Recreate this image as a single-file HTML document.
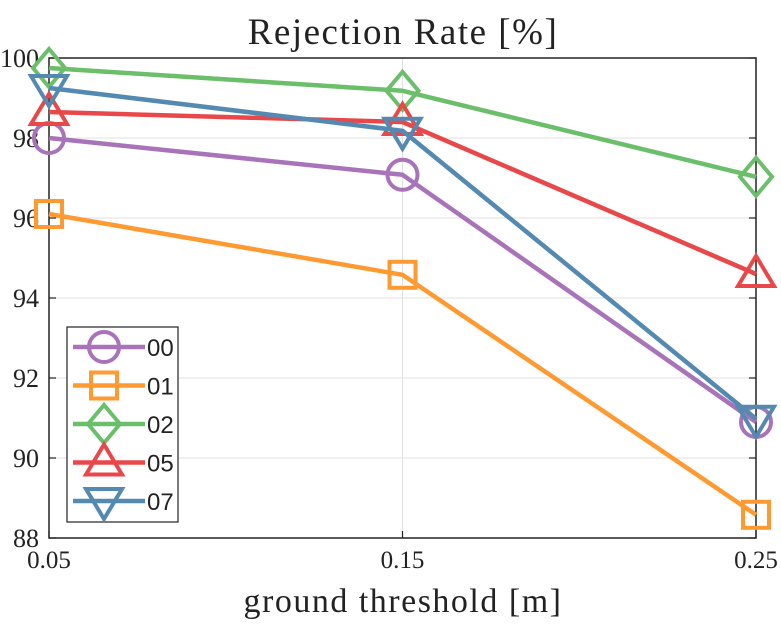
<!DOCTYPE html>
<html><head><meta charset="utf-8"><style>
body{margin:0;background:#fff;width:781px;height:625px;overflow:hidden}
svg text{font-family:"Liberation Serif",serif;fill:#222}
</style></head><body>
<svg id="chart" width="781" height="625" xmlns="http://www.w3.org/2000/svg">
<text x="403" y="44" font-size="37" letter-spacing="1.5" text-anchor="middle">Rejection Rate [%]</text>
<text x="403" y="612" font-size="34" letter-spacing="1.5" text-anchor="middle">ground threshold [m]</text>
<g id="grid"></g><g id="axes"></g><g id="series"></g><g id="legend"></g>
</svg>
<script>
const categories=[0.05,0.15,0.25];
const xTickLabels=["0.05","0.15","0.25"];
const yTicks=[88,90,92,94,96,98,100];
const seriesNames=["00","01","02","05","07"];
const s00=[98.0,97.08,90.9];
const s01=[96.1,94.58,88.58];
const s02=[99.75,99.18,97.03];
const s05=[98.65,98.4,94.6];
const s07=[99.25,98.18,90.98];
const values=[s00,s01,s02,s05,s07];
const colors=["#a873b8","#ff9a33","#6cbf6a","#e8484a","#5489b2"];
const markers=["circle","square","diamond","up","down"];
const L=49,R=756,T=58,B=538,X0=0.05,X1=0.25,Y0=88,Y1=100;
const xs=v=>L+(v-X0)/(X1-X0)*(R-L);
const ys=v=>B-(v-Y0)/(Y1-Y0)*(B-T);
const NS="http://www.w3.org/2000/svg";
function mk(tag,attrs,parent){const e=document.createElementNS(NS,tag);for(const k in attrs)e.setAttribute(k,attrs[k]);parent.appendChild(e);return e;}
const grid=document.getElementById('grid'),axes=document.getElementById('axes'),ser=document.getElementById('series'),leg=document.getElementById('legend');
yTicks.forEach(t=>{const y=ys(t);
 const g=mk('line',{x1:L,x2:R,y1:y,y2:y,stroke:'#e0e0e0','stroke-width':1},grid);
 
 
 mk('line',{x1:L,x2:L+7,y1:y,y2:y,stroke:'#222','stroke-width':1.2},axes);
 mk('line',{x1:R-7,x2:R,y1:y,y2:y,stroke:'#222','stroke-width':1.2},axes);
 const tx=mk('text',{x:L-10,y:y+9,'font-size':26,'text-anchor':'end'},axes);tx.textContent=t;
 
 
});
categories.forEach((c,i)=>{const x=xs(c);
 const g=mk('line',{x1:x,x2:x,y1:T,y2:B,stroke:'#e0e0e0','stroke-width':1},grid);
 
 
 mk('line',{x1:x,x2:x,y1:B,y2:B-7,stroke:'#222','stroke-width':1.2},axes);
 const tx=mk('text',{x:x,y:B+30,'font-size':25,'text-anchor':'middle'},axes);tx.textContent=xTickLabels[i];
 
 
});
const frame=mk('rect',{x:L,y:T,width:R-L,height:B-T,fill:'none',stroke:'#222','stroke-width':1.5},axes);


function marker(type,x,y,c,p){const r=16;let e;
 if(type==='circle')e=mk('circle',{cx:x,cy:y,r:15},p);
 else if(type==='square')e=mk('rect',{x:x-13,y:y-13,width:26,height:26},p);
 else if(type==='diamond')e=mk('polygon',{points:`${x},${y-r-3} ${x+r},${y} ${x},${y+r+3} ${x-r},${y}`},p);
 else if(type==='up')e=mk('polygon',{points:`${x},${y-r-2} ${x+r+2},${y+r*0.75} ${x-r-2},${y+r*0.75}`},p);
 else e=mk('polygon',{points:`${x},${y+r+2} ${x+r+2},${y-r*0.75} ${x-r-2},${y-r*0.75}`},p);
 e.setAttribute('fill','none');e.setAttribute('stroke',c);e.setAttribute('stroke-width',4);return e;}
values.forEach((vals,si)=>{
 const g=mk('g',{},ser);
 
 
 const pts=vals.map((v,i)=>xs(categories[i])+','+ys(v)).join(' ');
 mk('polyline',{points:pts,fill:'none',stroke:colors[si],'stroke-width':4.5,'stroke-linejoin':'round'},g);
 vals.forEach((v,i)=>{const m=marker(markers[si],xs(categories[i]),ys(v),colors[si],g);
  
  });
});
const lb=mk('rect',{x:67,y:327,width:111,height:195,fill:'#fff',stroke:'#222','stroke-width':1.2},leg);


seriesNames.forEach((n,i)=>{const y=347+i*38.5;
 const g=mk('g',{},leg);
 
 
 mk('line',{x1:73,x2:145,y1:y,y2:y,stroke:colors[i],'stroke-width':4.5},g);
 marker(markers[i],104,y,colors[i],g);
 const t=mk('text',{x:147,y:y+9,'font-size':24,style:'font-family:"Liberation Sans",sans-serif'},g);t.textContent=n;
});
</script>
</body></html>
